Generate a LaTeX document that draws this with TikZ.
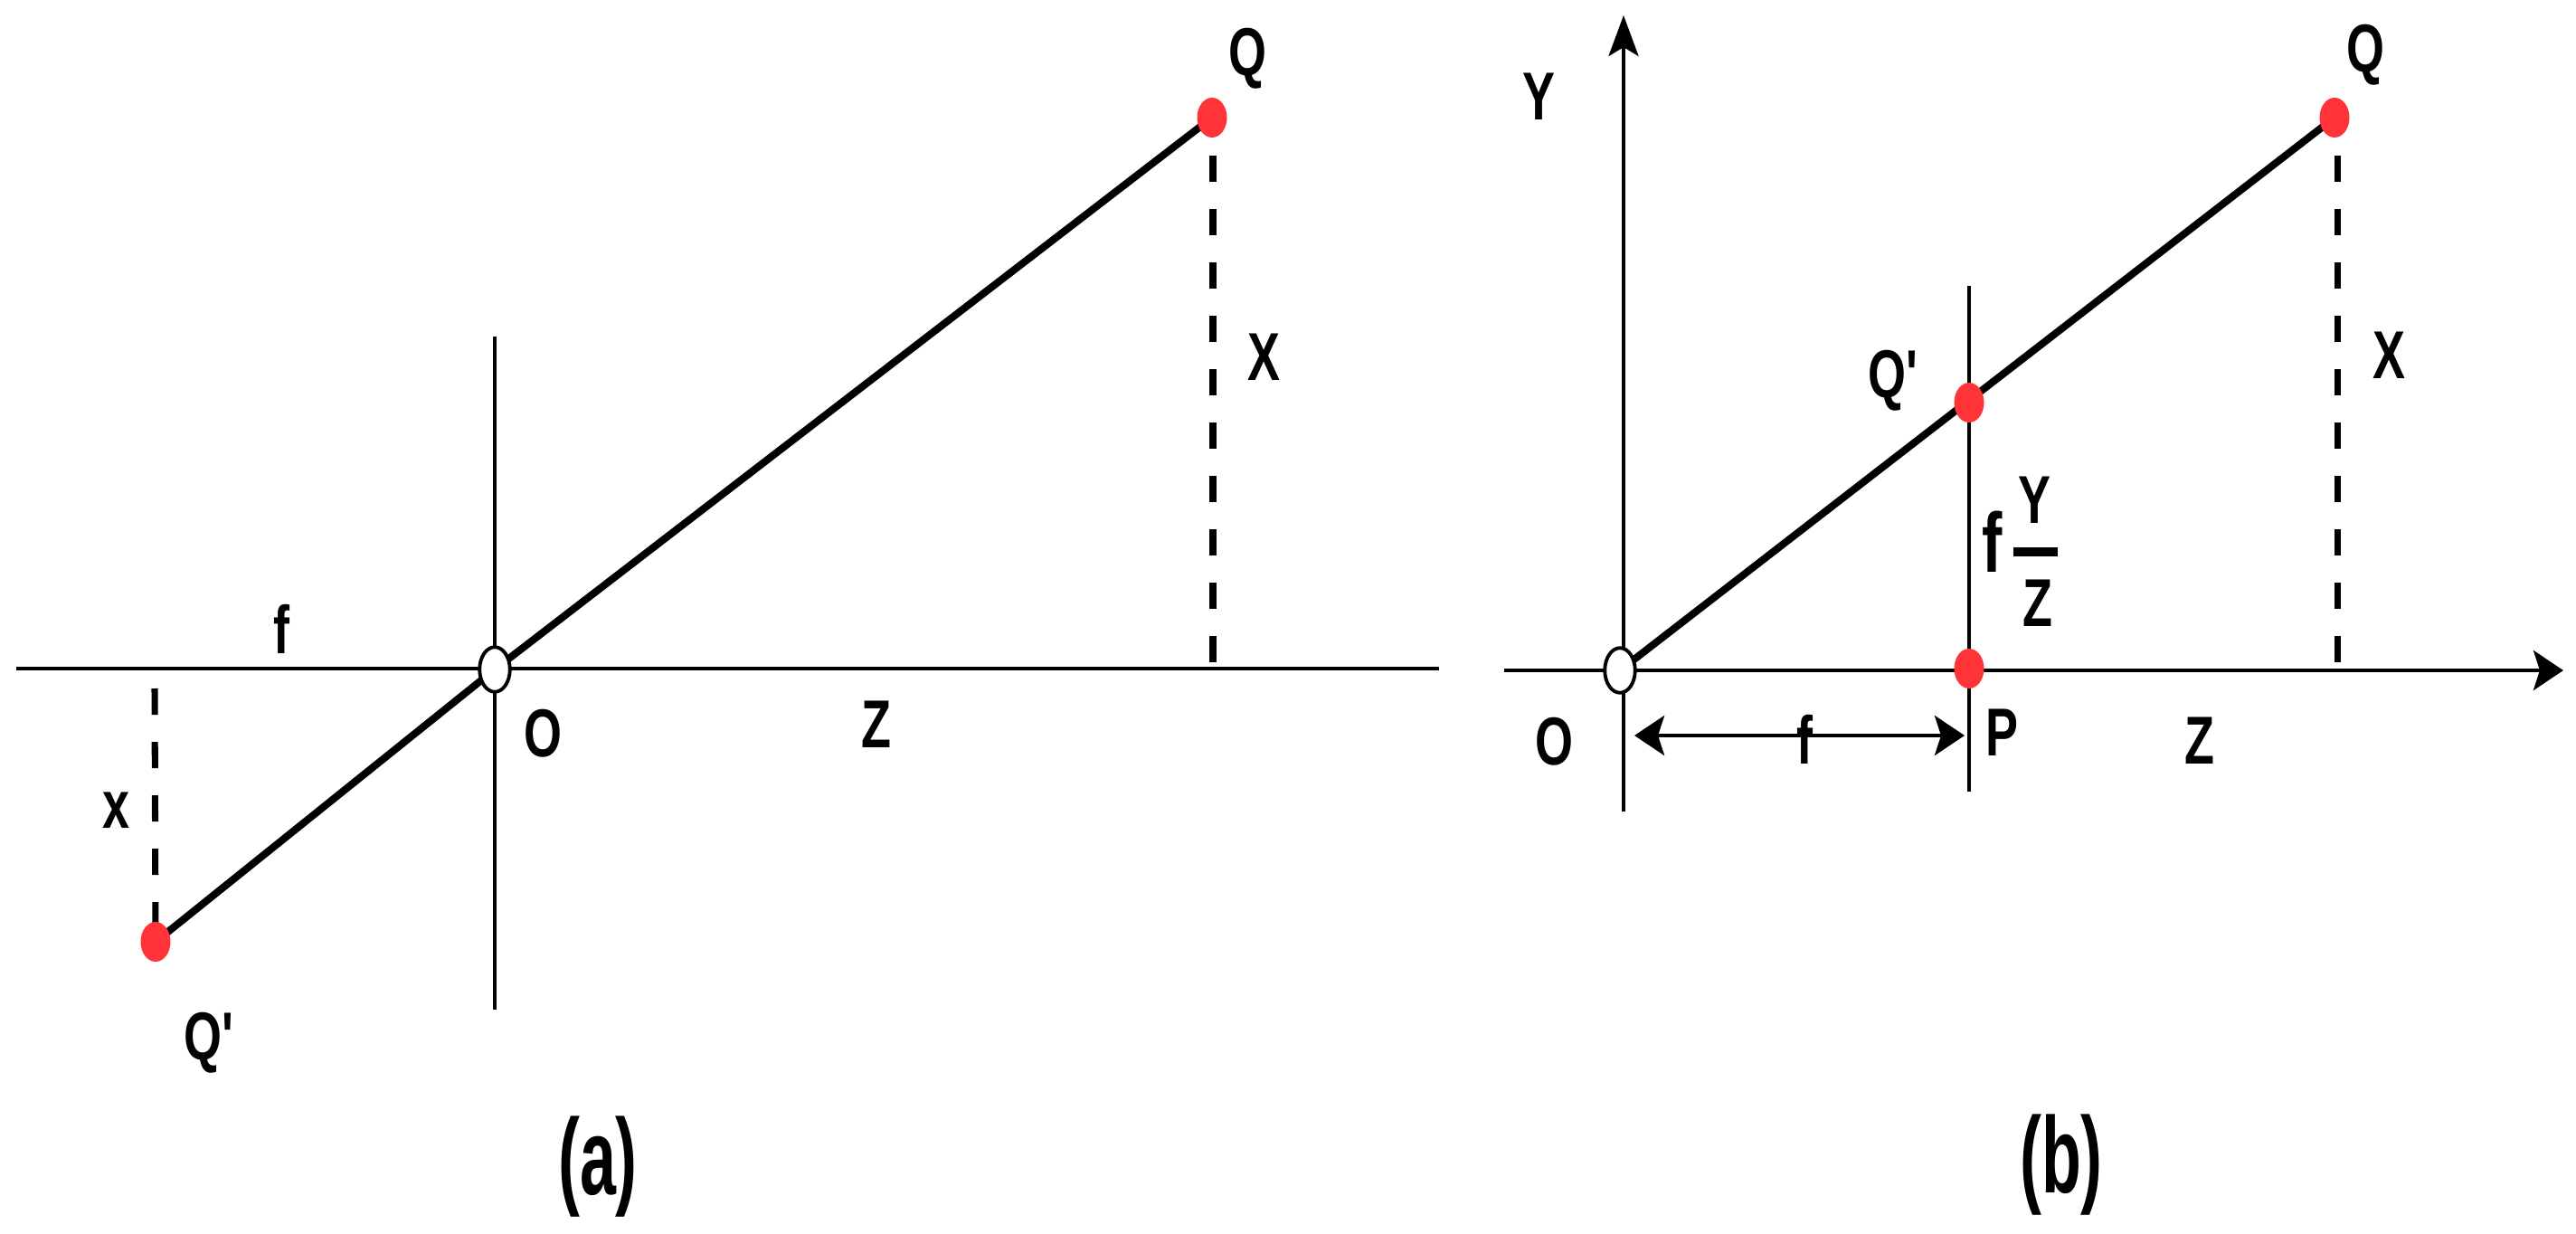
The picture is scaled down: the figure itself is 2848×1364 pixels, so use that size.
\documentclass[tikz,border=0pt]{standalone}
\usepackage{fontspec}
\setmainfont{Liberation Sans}
\usetikzlibrary{arrows.meta,shapes.geometric}
\definecolor{dotred}{RGB}{255,51,56}
\newcommand{\cnd}[1]{\scalebox{0.72}[1]{#1}}
\newcommand{\cnb}[1]{\scalebox{0.6}[1]{#1}}
\begin{document}
\begin{tikzpicture}[x=0.01cm,y=-0.01cm,
  thinline/.style={line width=1.15pt},
  ray/.style={line width=2.3pt},
  proj/.style={line width=2pt, dash pattern=on 8.25pt off 8.54pt},
  reddot/.style={ellipse, fill=dotred, minimum width=0.33cm, minimum height=0.44cm, inner sep=0pt},
  origin/.style={ellipse, draw, line width=1.1pt, fill=white, minimum width=0.335cm, minimum height=0.495cm, inner sep=0pt},
  lbl/.style={inner sep=0pt, anchor=base, font=\fontsize{21.3}{24}\selectfont\bfseries},
  biglbl/.style={inner sep=0pt, anchor=base, font=\fontsize{26.5}{30}\selectfont\bfseries},
  sublbl/.style={inner sep=0pt, anchor=base, font=\fontsize{34}{40}\selectfont\bfseries},
  htip/.style={-{Stealth[length=9.4pt,width=12.5pt,inset=2pt]}},
  vtip/.style={-{Stealth[length=12.8pt,width=9.4pt,inset=2.8pt]}},
  htips/.style={{Stealth[length=9.4pt,width=12.5pt,inset=2pt]}-{Stealth[length=9.4pt,width=12.5pt,inset=2pt]}}
]
\useasboundingbox (0,0) rectangle (2848,1364);

% ---------- panel (a) ----------
\coordinate (aL) at (18,739);
\coordinate (aR) at (1591,739);
\coordinate (aT) at (547,372);
\coordinate (aB) at (547,1116);
\coordinate (aO) at (547,740);
\coordinate (aQ) at (1340,130);
\coordinate (aQp) at (172,1041);
\coordinate (aD1) at (1341,172);
\coordinate (aD2) at (1341,739);
\coordinate (aD3) at (171,761);

\draw[thinline] (aL) -- (aR);
\draw[thinline] (aT) -- (aB);
\draw[proj] (aD1) -- (aD2);
\draw[proj] (aD3) -- (aQp);
\draw[ray] (aQp) -- (aO) -- (aQ);
\node[origin] (anO) at (aO) {};
\node[reddot] (anQ) at (aQ) {};
\node[reddot] (anQp) at (aQp) {};

\node[lbl] (alf) at (311,722) {\cnd{f}};
\node[lbl] (alO) at (600,836) {\cnd{O}};
\node[lbl] (alx) at (128,915) {\cnd{x}};
\node[lbl] (alQp) at (231,1171) {\cnd{Q\textquotesingle}};
\node[lbl] (alZ) at (969,826) {\cnd{Z}};
\node[lbl] (alX) at (1397,421) {\cnd{X}};
\node[lbl] (alQ) at (1379,84) {\cnd{Q}};
\node[sublbl] (capa) at (661,1320) {\cnb{(a)}};

% ---------- panel (b) ----------
\coordinate (bO) at (1791,741);
\coordinate (bYb) at (1795,897);
\coordinate (bYt) at (1795,17);
\coordinate (bZl) at (1663,741);
\coordinate (bZr) at (2834,741);
\coordinate (bIt) at (2177,316);
\coordinate (bIb) at (2177,875);
\coordinate (bP) at (2177,739);
\coordinate (bQp) at (2177,445);
\coordinate (bQ) at (2581,130);
\coordinate (bD1) at (2584,172);
\coordinate (bD2) at (2584,739);
\coordinate (bF1) at (1807,813);
\coordinate (bF2) at (2172,813);
\coordinate (barL) at (2226,610);
\coordinate (barR) at (2275,610);

\draw[thinline, vtip] (bYb) -- (bYt);
\draw[thinline, htip] (bZl) -- (bZr);
\draw[thinline] (bIt) -- (bIb);
\draw[proj] (bD1) -- (bD2);
\draw[ray] (bO) -- (bQ);
\draw[thinline, htips] (bF1) -- (bF2);
\draw[line width=2.85pt] (barL) -- (barR);
\node[origin] (bnO) at (bO) {};
\node[reddot] (bnP) at (bP) {};
\node[reddot] (bnQp) at (bQp) {};
\node[reddot] (bnQ) at (bQ) {};

\node[lbl] (blY) at (1701,133) {\cnd{Y}};
\node[lbl] (blQ) at (2615,80) {\cnd{Q}};
\node[lbl] (blQp) at (2093,440) {\cnd{Q\textquotesingle}};
\node[lbl] (blX) at (2641,419) {\cnd{X}};
\node[biglbl] (blff) at (2203,632) {\cnd{f}};
\node[lbl] (blfY) at (2249,578) {\cnd{Y}};
\node[lbl] (blfZ) at (2253,692) {\cnd{Z}};
\node[lbl] (blO) at (1718,845) {\cnd{O}};
\node[lbl] (blf) at (1995,844) {\cnd{f}};
\node[lbl] (blP) at (2213,835) {\cnd{P}};
\node[lbl] (blZ) at (2432,844) {\cnd{Z}};
\node[sublbl] (capb) at (2279,1318) {\cnb{(b)}};
\end{tikzpicture}
\end{document}
